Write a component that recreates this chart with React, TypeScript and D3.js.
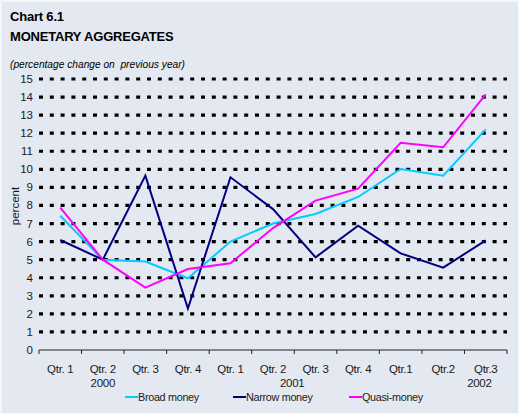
import * as d3 from "d3";
import React from "react";

const quarters = ["Qtr. 1", "Qtr. 2", "Qtr. 3", "Qtr. 4", "Qtr. 1", "Qtr. 2", "Qtr. 3", "Qtr. 4", "Qtr.1", "Qtr.2", "Qtr.3"];
// year labels sit under a (fractional) category index
const years = [
  { label: "2000", at: 1 },
  { label: "2001", at: 5.45 },
  { label: "2002", at: 9.85 },
];

const broadMoney = [7.43, 5.0, 4.9, 3.97, 6.0, 7.0, 7.53, 8.47, 10.02, 9.65, 12.21];
const narrowMoney = [6.09, 5.0, 9.65, 2.3, 9.56, 7.8, 5.13, 6.88, 5.35, 4.56, 6.07];
const quasiMoney = [7.88, 5.0, 3.45, 4.48, 4.8, 6.75, 8.27, 8.93, 11.47, 11.22, 14.15];

const yTicks = d3.range(0, 16);

const series = [
  { name: "Broad money", values: broadMoney, color: "#00ccff", legendX: 125 },
  { name: "Narrow money", values: narrowMoney, color: "#000080", legendX: 233 },
  { name: "Quasi-money", values: quasiMoney, color: "#ff00ff", legendX: 349 },
];

const W = 519;
const H = 414;
const font = "'Liberation Sans', Arial, sans-serif";

export default function App() {
  const keys = quarters.map((_q, i) => String(i));
  const x = d3.scaleBand().domain(keys).range([39, 507]).padding(0);
  const y = d3.scaleLinear().domain([0, 15]).range([350, 79]);
  const cx = (i: number) => x(String(i))! + x.bandwidth() / 2;
  // linear position for fractional indices (year labels)
  const xi = d3.scaleLinear().domain([0, 1]).range([cx(0), cx(1)]);

  const line = d3.line<number>()
    .x((_v, i) => cx(i))
    .y((v) => y(v));

  const boundaries = d3.range(0, quarters.length + 1).map((i) => 39 + i * x.bandwidth());

  return (
    <svg width={W} height={H} style={{ position: "absolute", left: 0, top: 0 }} fontFamily={font}>
      <rect x={0} y={0} width={W} height={H} fill="#f4f6f9" />
      <rect x={2} y={2} width={W - 3} height={H - 3} fill="#e4e9f1" />

      <text x={10} y={20.5} fontSize={13} fontWeight="bold" fill="#000" letterSpacing={-0.2}>Chart 6.1</text>
      <text x={10} y={40.5} fontSize={13} fontWeight="bold" fill="#000" letterSpacing={-0.2}>MONETARY AGGREGATES</text>
      <text x={10} y={68} fontSize={10.2} fontStyle="italic" fill="#000" style={{ whiteSpace: "pre" }}>
        (percentage change on  previous year)
      </text>

      {/* dotted gridlines */}
      {yTicks.filter((t) => t > 0).map((t) => (
        <line key={t} x1={39} x2={507} y1={y(t)} y2={y(t)} stroke="#000" strokeWidth={3.2} strokeDasharray="4 6.8" />
      ))}

      {/* y tick labels */}
      {yTicks.map((t) => (
        <text key={t} x={33} y={y(t) + 4} fontSize={11.5} textAnchor="end" fill="#1a1a1a">{t}</text>
      ))}
      <text transform={`translate(19,${206}) rotate(-90)`} fontSize={11.5} textAnchor="middle" fill="#1a1a1a">percent</text>

      {/* x axis */}
      <line x1={39} x2={507} y1={y(0)} y2={y(0)} stroke="#222" strokeWidth={1} />
      {boundaries.map((b, i) => (
        <line key={i} x1={b} x2={b} y1={y(0)} y2={y(0) + 4} stroke="#222" strokeWidth={1} />
      ))}
      {quarters.map((q, i) => (
        <text key={i} x={cx(i)} y={373} fontSize={11.5} textAnchor="middle" fill="#1a1a1a" letterSpacing={-0.3}>{q}</text>
      ))}
      {years.map((yr) => (
        <text key={yr.label} x={xi(yr.at)} y={387} fontSize={11.5} textAnchor="middle" fill="#1a1a1a" letterSpacing={-0.3}>{yr.label}</text>
      ))}

      {/* series */}
      {series.map((s) => (
        <path key={s.name} d={line(s.values) || ""} fill="none" stroke={s.color} strokeWidth={2} strokeLinejoin="miter" />
      ))}

      {/* legend */}
      {series.map((s) => (
        <g key={s.name}>
          <line x1={s.legendX} x2={s.legendX + 13} y1={397} y2={397} stroke={s.color} strokeWidth={2} />
          <text x={s.legendX + 13} y={401} fontSize={10.8} fill="#1a1a1a" letterSpacing={-0.3}>{s.name}</text>
        </g>
      ))}
    </svg>
  );
}
